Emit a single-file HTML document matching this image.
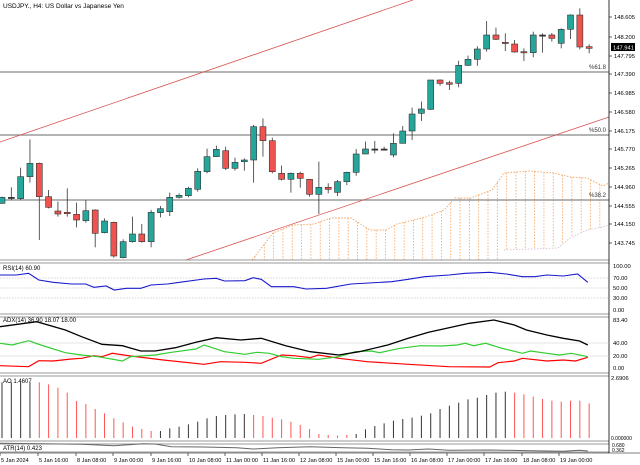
<!DOCTYPE html>
<html><head><meta charset="utf-8"><style>
html,body{margin:0;padding:0;background:#fff;}
svg{display:block;font-family:"Liberation Sans",sans-serif;}
</style></head><body>
<svg id="s" width="640" height="465" viewBox="0 0 640 465" xmlns="http://www.w3.org/2000/svg"></svg>
<script>
const S=document.getElementById('s');let h='';
const X=zx=>zx/2.45;
const cx=i=>2+9.32*i;
// panels
h+='<rect x="0" y="0" width="609" height="260" fill="#fff"/>';
// ichimoku cloud
const up=[[252,260],[273,233],[293,225],[314,224],[331,218],[351,218],[370,230],[386,230],[397,224],[426,217],[444,210],[455,198],[471,198],[492,190],[504,173],[529,171],[554,173],[570,177],[587,178],[603,186],[609,183]];
const lo=[[252,262],[500,262],[504,250],[558,248],[570,238],[587,230],[603,227],[609,225]];
function interp(a,x){for(let k=0;k<a.length-1;k++){if(x>=a[k][0]&&x<=a[k+1][0]){const t=(x-a[k][0])/(a[k+1][0]-a[k][0]);return a[k][1]+t*(a[k+1][1]-a[k][1]);}}return null;}
for(let x=255;x<609;x+=9.32){const a=interp(up,x),b=Math.min(260,interp(lo,x));if(a!=null&&b!=null)h+=`<line x1="${x}" y1="${a}" x2="${x}" y2="${b}" stroke="#f4a460" stroke-width="0.8" stroke-dasharray="1.5,1.5"/>`;}
h+=`<polyline points="${up.map(p=>p.join(',')).join(' ')}" fill="none" stroke="#f4a460" stroke-width="0.9" stroke-dasharray="1.5,1.5"/>`;
h+=`<polyline points="${lo.slice(2).map(p=>p.join(',')).join(' ')}" fill="none" stroke="#d8bfd8" stroke-width="0.9" stroke-dasharray="1.5,1.5"/>`;
// fib lines
[[72,'%61.8'],[135,'%50.0'],[200,'%38.2']].forEach(([y,t])=>{h+=`<line x1="0" y1="${y}" x2="609" y2="${y}" stroke="#888" stroke-width="1.2"/><text x="606" y="${y-3}" font-size="6" text-anchor="end" fill="#333">${t}</text>`;});
// channel
h+='<line x1="0" y1="142" x2="413" y2="0" stroke="#d9534f" stroke-width="0.8"/>';
h+='<line x1="186" y1="260" x2="609" y2="117" stroke="#d9534f" stroke-width="0.8"/>';
// candles [g/r, o,c,h,l] zoom y
const C=[['g',610,592,590,612],['d',592,592,562,600],['g',596,530,503,600],['g',530,490,418,548],['r',490,590,488,720],['r',590,622,570,625],['r',633,642,605,650],['r',637,641,565,650],['r',643,660,608,682],['g',662,632,600,668],['r',630,700,628,742],['g',698,663,655,700],['r',667,768,665,773],['g',773,725,718,775],['g',725,702,650,728],['r',702,725,672,728],['g',725,637,630,742],['g',638,626,618,652],['g',635,592,578,648],['g',592,586,580,595],['g',587,565,560,592],['g',568,514,505,575],['g',515,470,446,520],['g',470,448,437,470],['r',452,505,440,510],['g',505,487,473,512],['g',485,480,475,512],['g',480,380,375,548],['r',380,422,355,470],['r',422,515,413,520],['r',520,538,497,541],['g',538,520,517,578],['r',520,535,515,563],['r',538,583,537,590],['g',583,562,485,642],['r',562,568,550,580],['g',577,545,540,588],['g',545,517,515,555],['g',517,462,447,527],['g',462,447,425,462],['d',447,447,423,460],['d',447,449,440,452],['g',465,430,400,472],['g',430,393,378,430],['g',393,342,323,420],['g',340,327,305,363],['g',328,240,240,330],['r',240,250,238,257],['r',248,253,242,270],['g',250,196,182,262],['g',196,178,167,198],['g',178,147,139,197],['g',147,105,63,155],['r',105,118,83,120],['r',127,130,100,153],['r',132,156,120,158],['r',155,158,145,183],['g',158,105,95,172],['d',105,105,100,158],['r',105,115,99,125],['g',130,88,85,145],['g',88,45,43,117],['r',45,141,25,148],['r',140,145,133,160]];
C.forEach((c,i)=>{const x=cx(i);const o=c[1]/3,cl=c[2]/3,hi=c[3]/3,lw=Math.min(c[4]/3,260);
h+=`<line x1="${x}" y1="${hi}" x2="${x}" y2="${lw}" stroke="#333" stroke-width="0.8"/>`;
const t=Math.min(o,cl),bh=Math.max(1.2,Math.abs(o-cl));
const f=c[0]=='g'?'#26a69a':c[0]=='r'?'#ef5350':'#333';
h+=`<rect x="${x-3}" y="${t}" width="6" height="${bh}" fill="${f}" stroke="#333" stroke-width="0.6"/>`;});
h+='<text x="3" y="8" font-size="6.5" fill="#000">USDJPY., H4:  US Dollar vs Japanese Yen</text>';
// price axis
[['148.605',17],['148.200',37],['147.795',56],['147.390',74],['146.985',93],['146.580',112],['146.175',131],['145.770',149],['145.265',168],['144.960',187],['144.555',206],['144.150',224],['143.745',243]].forEach(([t,y])=>{h+=`<line x1="609" y1="${y}" x2="612" y2="${y}" stroke="#000" stroke-width="0.6"/><text x="614" y="${y+2}" font-size="5.8" fill="#000">${t}</text>`;});
h+='<rect x="611" y="43" width="24" height="8" fill="#000"/><text x="613" y="49.5" font-size="5.8" fill="#fff">147.941</text>';
// separators
[260,263,314,317,373,376,441,444,452].forEach(y=>{h+=`<line x1="0" y1="${y}" x2="609" y2="${y}" stroke="#777" stroke-width="0.8"/>`;});
h+='<line x1="609" y1="0" x2="609" y2="453" stroke="#000" stroke-width="0.8"/>';
h+='<line x1="0" y1="453" x2="640" y2="453" stroke="#000" stroke-width="0.6"/>';
// RSI
[[278,'70.00'],[288,'50.00'],[298,'30.00']].forEach(([y])=>{h+=`<line x1="0" y1="${y}" x2="609" y2="${y}" stroke="#aaa" stroke-width="0.6" stroke-dasharray="1.5,1.5"/>`;});
[[266,'100.00'],[278,'70.00'],[288,'50.00'],[298,'30.00'],[310,'0.00']].forEach(([y,t])=>{h+=`<text x="613" y="${y+2}" font-size="5.8">${t}</text>`;});
const pl=(a,c,w)=>`<polyline points="${a.map(p=>X(p[0]).toFixed(1)+','+(255+p[1]/3).toFixed(1)).join(' ')}" fill="none" stroke="${c}" stroke-width="${w}"/>`;
h+=pl([[0,60],[40,60],[70,55],[95,75],[130,82],[175,87],[210,87],[230,97],[260,93],[280,105],[310,100],[345,100],[370,90],[410,87],[440,82],[500,72],[530,70],[550,78],[600,77],[620,68],[640,73],[665,95],[720,95],[750,102],[800,100],[860,87],[960,80],[1000,73],[1040,65],[1100,60],[1140,55],[1200,52],[1240,57],[1280,65],[1310,65],[1340,60],[1380,63],[1415,57],[1440,82]],'#1a1acd',1.1);
h+='<text x="3" y="270" font-size="6">RSI(14) 60.90</text>';
// ADX
[343,356].forEach(y=>{h+=`<line x1="0" y1="${y}" x2="609" y2="${y}" stroke="#ccc" stroke-width="0.6"/>`;});
[[320,'83.40'],[343,'40.00'],[356,'20.00'],[368,'0.00']].forEach(([y,t])=>{h+=`<text x="613" y="${y+2}" font-size="5.8">${t}</text>`;});
h+=pl([[0,332],[70,335],[95,317],[130,318],[175,312],[200,310],[230,302],[250,305],[275,295],[320,303],[400,315],[500,328],[540,320],[600,322],[640,325],[690,300],[720,302],[760,308],[780,300],[830,310],[900,320],[1000,328],[1100,335],[1200,336],[1220,323],[1260,318],[1280,310],[1340,318],[1380,315],[1410,318],[1440,307]],'#f00',1.2);
h+=pl([[0,265],[30,270],[70,257],[100,270],[160,293],[200,300],[240,305],[300,318],[320,305],[380,300],[420,292],[480,282],[500,270],[550,290],[600,298],[630,292],[660,295],[690,305],[720,310],[780,313],[830,305],[870,290],[910,288],[930,293],[980,280],[1030,272],[1080,273],[1120,270],[1140,265],[1160,272],[1190,265],[1230,280],[1280,295],[1300,288],[1340,295],[1370,300],[1400,295],[1440,305]],'#32cd32',1.2);
h+=pl([[0,215],[90,200],[160,225],[200,245],[250,268],[300,272],[345,288],[380,288],[430,278],[480,262],[530,248],[590,255],[640,250],[700,272],[760,290],[830,300],[880,290],[950,270],[1000,250],[1050,232],[1100,218],[1150,205],[1210,195],[1260,210],[1290,225],[1340,240],[1380,250],[1420,258],[1440,270]],'#000',1.3);
h+='<text x="3" y="322" font-size="6">ADX(14) 36.90 18.07 18.00</text>';
// AO
const ao=[382,382,382,382,382,388,398,413,438,447,462,475,490,502,515,522,528,528,520,515,508,500,490,483,480,478,477,480,483,488,493,500,510,522,537,540,542,540,537,523,513,505,497,492,488,482,475,462,452,443,433,428,420,413,410,413,418,425,432,437,440,437,437,445];
ao.forEach((v,i)=>{let col='#333';if(i>0&&v>ao[i-1])col='#f55';else if(i>0&&v==ao[i-1])col=(i<4?'#333':(ao[i-1]>=(ao[i-2]||0)?'#f55':'#333'));
if(i>=4&&i<=16)col='#f55';if(i>=17&&i<=26)col='#333';if(i>=27&&i<=37)col='#f55';if(i>=38&&i<=54)col='#333';if(i>=55)col='#f55';
h+=`<line x1="${cx(i)}" y1="${255+v/3}" x2="${cx(i)}" y2="438" stroke="${col}" stroke-width="1"/>`;});
h+='<text x="3" y="383" font-size="6">AO 1.4607</text><text x="611" y="380" font-size="5.8">2.6906</text><text x="611" y="440" font-size="5">0.000000</text>';
// ATR
h+=pl([[0,565],[100,566],[200,568],[280,572],[350,566],[380,567],[420,575],[500,576],[580,578],[620,582],[680,578],[760,575],[840,578],[900,580],[960,584],[1000,585],[1050,582],[1100,586],[1200,585],[1300,587],[1380,589],[1420,586],[1440,588]],'#666',1);
h+='<text x="3" y="450" font-size="6">ATR(14) 0.423</text><text x="612" y="447" font-size="5">0.680</text><text x="612" y="452" font-size="5">0.362</text>';
// time axis
[['5 Jan 2024',0],['5 Jan 16:00',38],['8 Jan 08:00',76],['9 Jan 00:00',113],['9 Jan 16:00',151],['10 Jan 08:00',188],['11 Jan 00:00',225],['11 Jan 16:00',262],['12 Jan 08:00',299],['15 Jan 00:00',336],['15 Jan 16:00',373],['16 Jan 08:00',410],['17 Jan 00:00',447],['17 Jan 16:00',484],['18 Jan 08:00',522],['19 Jan 00:00',559]].forEach(([t,x])=>{h+=`<line x1="${x}" y1="453" x2="${x}" y2="456" stroke="#000" stroke-width="0.6"/><text x="${x+1}" y="462" font-size="5.6">${t}</text>`;});
S.innerHTML=h;
</script>
</body></html>
